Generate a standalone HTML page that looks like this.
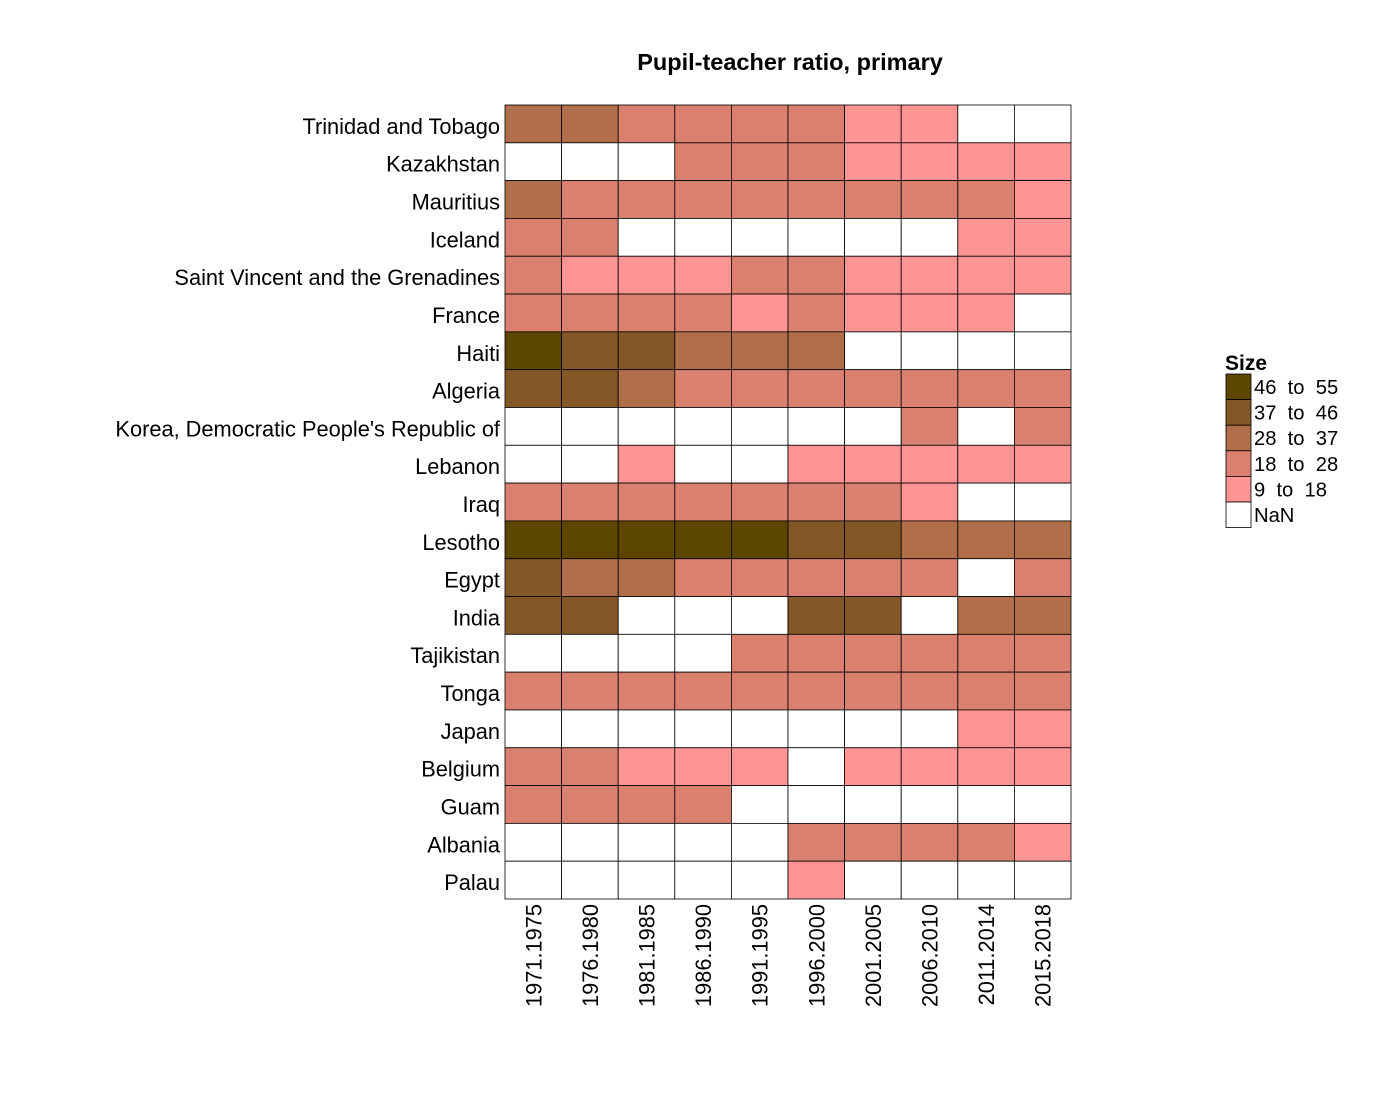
<!DOCTYPE html>
<html><head><meta charset="utf-8"><style>
body{margin:0;background:#fff;font-family:"Liberation Sans",sans-serif}
</style></head><body>
<svg id="chart" width="1400" height="1100" xmlns="http://www.w3.org/2000/svg" font-family="Liberation Sans, sans-serif">
<text x="790" y="70" text-anchor="middle" font-size="23.5" font-weight="bold">Pupil-teacher ratio, primary</text>
<g id="cells"></g><g id="ylab"></g><g id="xlab"></g><g id="legend"></g>
</svg>
<script>
const countries=["Trinidad and Tobago","Kazakhstan","Mauritius","Iceland","Saint Vincent and the Grenadines","France","Haiti","Algeria","Korea, Democratic People's Republic of","Lebanon","Iraq","Lesotho","Egypt","India","Tajikistan","Tonga","Japan","Belgium","Guam","Albania","Palau"];
const periods=["1971.1975","1976.1980","1981.1985","1986.1990","1991.1995","1996.2000","2001.2005","2006.2010","2011.2014","2015.2018"];
const N=null;
const values=[
[32,32,23,23,23,23,14,14,N,N],
[N,N,N,23,23,23,14,14,14,14],
[32,23,23,23,23,23,23,23,23,14],
[23,23,N,N,N,N,N,N,14,14],
[23,14,14,14,23,23,14,14,14,14],
[23,23,23,23,14,23,14,14,14,N],
[50,41,41,32,32,32,N,N,N,N],
[41,41,32,23,23,23,23,23,23,23],
[N,N,N,N,N,N,N,23,N,23],
[N,N,14,N,N,14,14,14,14,14],
[23,23,23,23,23,23,23,14,N,N],
[50,50,50,50,50,41,41,32,32,32],
[41,32,32,23,23,23,23,23,N,23],
[41,41,N,N,N,41,41,N,32,32],
[N,N,N,N,23,23,23,23,23,23],
[23,23,23,23,23,23,23,23,23,23],
[N,N,N,N,N,N,N,N,14,14],
[23,23,14,14,14,N,14,14,14,14],
[23,23,23,23,N,N,N,N,N,N],
[N,N,N,N,N,23,23,23,23,14],
[N,N,N,N,N,14,N,N,N,N]];
const binLabels=["46  to  55","37  to  46","28  to  37","18  to  28","9  to  18","NaN"];
const binLow=[46,37,28,18,9];
const colors=["#5c4600","#845726","#b06e4b","#d9806f","#ff9494","#ffffff"];
const NS="http://www.w3.org/2000/svg";
const x0=505,x1=1071,y0=105,y1=899;
const cw=(x1-x0)/periods.length, rh=(y1-y0)/countries.length;
const xs=i=>x0+i*cw, ys=j=>y0+j*rh;
function color(v){if(v===null)return colors[5];for(let k=0;k<binLow.length;k++)if(v>=binLow[k])return colors[k];return colors[4];}
function mk(t,a){const e=document.createElementNS(NS,t);for(const k in a)e.setAttribute(k,a[k]);return e;}
const cells=document.getElementById('cells');
values.forEach((row,j)=>row.forEach((v,i)=>{
 const r=mk('rect',{x:xs(i),y:ys(j),width:cw,height:rh,fill:color(v),stroke:'#000','stroke-width':0.8});
 
 
 cells.appendChild(r);}));
const yl=document.getElementById('ylab');
countries.forEach((c,j)=>{const t=mk('text',{x:500,y:ys(j)+rh/2+10,'text-anchor':'end','font-size':21.8});t.textContent=c;
 
 
 yl.appendChild(t);});
const xl=document.getElementById('xlab');
periods.forEach((p,i)=>{const cx=xs(i)+cw/2+8;const t=mk('text',{x:cx,y:904,'text-anchor':'end','font-size':21.8,transform:`rotate(-90 ${cx} 904)`});t.textContent=p;
 
 
 xl.appendChild(t);});
const lg=document.getElementById('legend');
const lt=mk('text',{x:1225,y:370,'font-size':21,'font-weight':'bold'});lt.textContent='Size';


lg.appendChild(lt);
binLabels.forEach((b,k)=>{const y=374+k*25.6;
 const r=mk('rect',{x:1226,y:y,width:25,height:25.6,fill:colors[k],stroke:'#000','stroke-width':0.8});
 
 
 lg.appendChild(r);
 const t=mk('text',{x:1254,y:y+20,'font-size':20.2,'xml:space':'preserve'});t.textContent=b;t.style.whiteSpace='pre';
 
 
 lg.appendChild(t);});
</script>
</body></html>
